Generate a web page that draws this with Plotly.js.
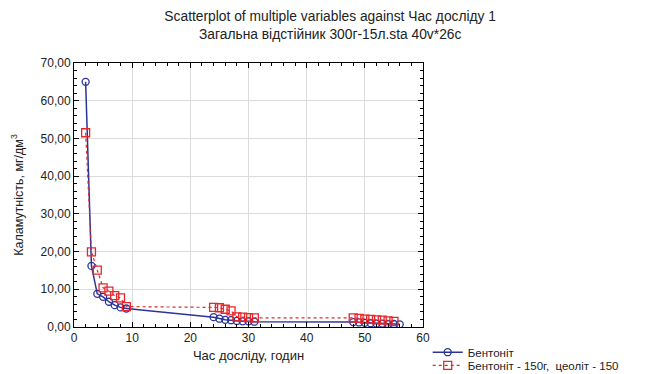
<!DOCTYPE html>
<html>
<head>
<meta charset="utf-8">
<script src="https://cdn.plot.ly/plotly-3.0.1.min.js"></script>
<style>html,body{margin:0;padding:0;background:#fff;}#chart{width:650px;height:374px;}</style>
</head>
<body>
<div id="chart"></div>
<script>
var seriesNames = ["Бентоніт", "Бентоніт - 150г,  цеоліт - 150"];
var hours1 = [2,3,4,5,6,7,8,9,24,25,26,27,28,29,30,31,48,49,50,51,52,53,54,55,56];
var turbidity1 = [65,16.2,8.8,8,6.7,5.8,5.2,4.9,2.6,2.2,1.9,1.8,1.6,1.5,1.5,1.4,1.3,1.2,1.1,1.0,0.9,0.9,0.8,0.8,0.7];
var hours2 = [2,3,4,5,6,7,8,9,24,25,26,27,28,29,30,31,48,49,50,51,52,53,54,55];
var turbidity2 = [51.5,19.9,15.1,10.4,9.5,8.3,7.7,5.4,5.2,5.1,4.7,4.3,2.7,2.6,2.5,2.4,2.4,2.3,2.1,2.0,1.9,1.8,1.6,1.5];
var xTickVals = [0,10,20,30,40,50,60];
var yTickVals = [0,10,20,30,40,50,60,70];

var FONT = "Liberation Sans, Arial, sans-serif";
var traces = [
  {x: hours1, y: turbidity1, name: seriesNames[0], type: "scatter", mode: "lines+markers", legend: "legend",
   line: {color: "#2a3597", width: 1.5},
   marker: {symbol: "circle-open", size: 7, color: "#2a3597", line: {width: 1.3}}},
  {x: hours2, y: turbidity2, name: seriesNames[1], type: "scatter", mode: "lines+markers", legend: "legend2",
   line: {color: "#e8262a", width: 1.2, dash: "dot"},
   marker: {symbol: "square-open", size: 8, color: "#e8262a", line: {width: 1.3}}}
];
var axisCommon = {
  showline: true, linecolor: "#000", linewidth: 1, mirror: "allticks",
  ticks: "inside", ticklen: 5, tickcolor: "#000",
  showgrid: true, gridcolor: "#dcdcdc", gridwidth: 1, zeroline: false,
  tickfont: {family: FONT, size: 12, color: "#222"},
  automargin: false
};
var legendCommon = {x: 0.658, xref: "container", xanchor: "left", yref: "container", yanchor: "top",
  bgcolor: "rgba(0,0,0,0)", font: {family: FONT, size: 11.5, color: "#222"}, tracegroupgap: 0, itemwidth: 30};
var layout = {
  width: 650, height: 374,
  margin: {l: 74, r: 227, t: 63, b: 47},
  paper_bgcolor: "#fff", plot_bgcolor: "#fff",
  separators: ", ",
  font: {family: FONT, size: 12, color: "#222"},
  title: {text: "Scatterplot of multiple variables against Час досліду 1<br>Загальна відстійник 300г-15л.sta 40v*26c",
          font: {family: FONT, size: 13.8, color: "#222"}, x: 0.508, xref: "container", xanchor: "center",
          y: 0.945, yref: "container", yanchor: "top", automargin: false},
  xaxis: Object.assign({}, axisCommon, {
    range: [0, 60], tickvals: xTickVals, ticktext: xTickVals.map(String),
    minor: {ticks: "inside", ticklen: 3, tickcolor: "#000", showgrid: false, dtick: 2, tick0: 0},
    title: {text: "Час досліду, годин", font: {family: FONT, size: 13, color: "#222"}, standoff: 6}
  }),
  yaxis: Object.assign({}, axisCommon, {
    range: [0, 70], tickvals: yTickVals, tickformat: ".2f",
    minor: {ticks: "inside", ticklen: 3, tickcolor: "#000", showgrid: false, dtick: 2, tick0: 0},
    title: {text: "Каламутність, мг/дм<sup>3</sup>", font: {family: FONT, size: 12.5, color: "#222"}, standoff: 14}
  }),
  legend: Object.assign({}, legendCommon, {y: 0.097}),
  legend2: Object.assign({}, legendCommon, {y: 0.062}),
  showlegend: true
};
Plotly.newPlot("chart", traces, layout, {displayModeBar: false, staticPlot: true});
</script>
</body>
</html>
